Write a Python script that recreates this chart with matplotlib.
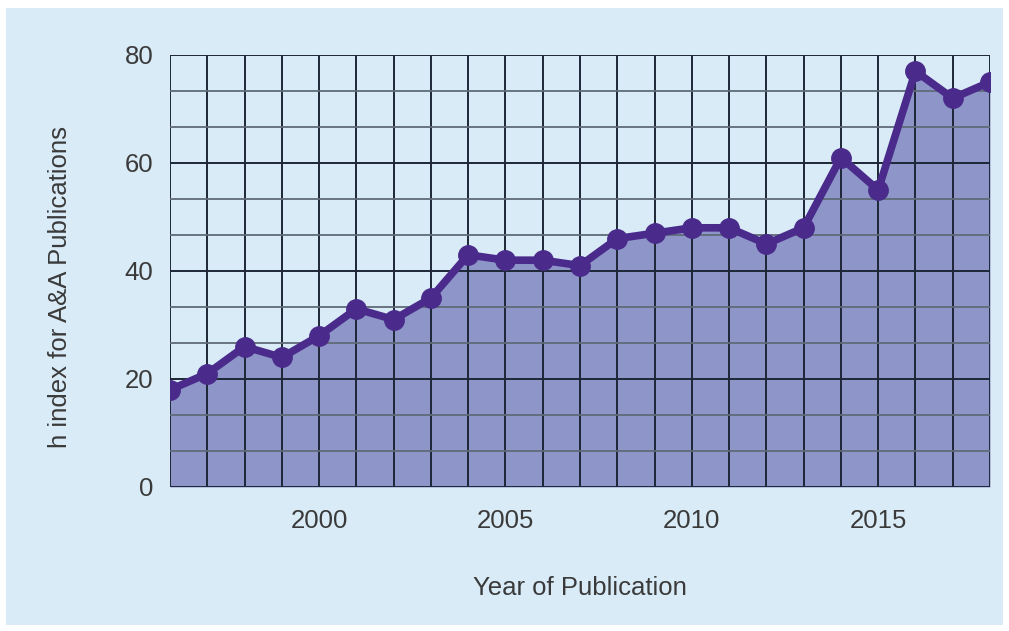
import numpy as np
import matplotlib.pyplot as plt
from matplotlib.patches import Rectangle
from matplotlib.ticker import MultipleLocator

plt.rcParams['font.family'] = ['Liberation Sans', 'DejaVu Sans']

years = [1996, 1997, 1998, 1999, 2000, 2001, 2002, 2003, 2004, 2005, 2006, 2007,
         2008, 2009, 2010, 2011, 2012, 2013, 2014, 2015, 2016, 2017, 2018]
h_index = [18, 21, 26, 24, 28, 33, 31, 35, 43, 42, 42, 41,
           46, 47, 48, 48, 45, 48, 61, 55, 77, 72, 75]
x_ticks = [2000, 2005, 2010, 2015]
y_ticks = [0, 20, 40, 60, 80]

bg = "#d9ebf7"
fill_col = "#8e96c9"
line_col = "#4a2b8b"
grid_dark = "#1d2636"
grid_light = "#5f6b76"
text_col = "#3a3a3a"

fig = plt.figure(figsize=(10.09, 6.31), dpi=100, facecolor="white")
fig.patches.append(Rectangle((6 / 1009, 6 / 631), 997 / 1009, 617 / 631,
                             transform=fig.transFigure, facecolor=bg,
                             edgecolor="none", zorder=-1))

ax = fig.add_axes([170 / 1009, 144 / 631, 820 / 1009, 432 / 631])
ax.set_facecolor(bg)

ax.fill_between(years, h_index, 0, color=fill_col, zorder=1, lw=0)

# grid drawn over the fill
ax.xaxis.set_major_locator(MultipleLocator(1))
ax.yaxis.set_major_locator(MultipleLocator(20))
ax.yaxis.set_minor_locator(MultipleLocator(20 / 3))
ax.grid(True, which="major", axis="x", color=grid_dark, lw=1.4, zorder=2)
ax.grid(True, which="major", axis="y", color=grid_dark, lw=1.4, zorder=2)
ax.grid(True, which="minor", axis="y", color=grid_light, lw=1.3, zorder=2)
ax.set_axisbelow(False)

ax.plot(years, h_index, color=line_col, lw=5.5, marker="o", ms=14,
        zorder=3, clip_on=True)

ax.set_xlim(1996, 2018)
ax.set_ylim(0, 80)

ax.set_xticks(range(1996, 2019))
ax.set_xticklabels([str(y) if y in x_ticks else "" for y in range(1996, 2019)])
ax.set_yticks(y_ticks)
ax.tick_params(axis="both", which="both", length=0, labelsize=18.5,
               labelcolor=text_col)
ax.tick_params(axis="x", pad=16)
ax.tick_params(axis="y", pad=12)

for s in ax.spines.values():
    s.set_visible(False)

ax.set_xlabel("Year of Publication", fontsize=18.5, color=text_col, va="center")
ax.xaxis.set_label_coords(0.5, -0.234)
ax.set_ylabel("h index for A&A Publications", fontsize=18.5, color=text_col,
              va="center")
ax.yaxis.set_label_coords(-0.134, 0.463)

fig.savefig("out.png", dpi=100, facecolor="white")
